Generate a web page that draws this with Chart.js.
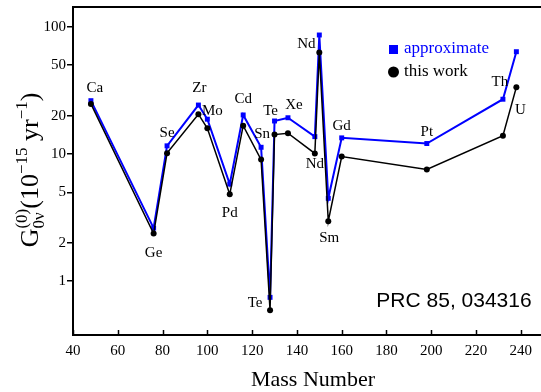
<!DOCTYPE html>
<html>
<head>
<meta charset="utf-8">
<script src="https://cdn.jsdelivr.net/npm/chart.js@4.4.1/dist/chart.umd.min.js"></script>
<style>
  html, body { margin: 0; padding: 0; background: #fff; }
  #wrap { width: 541px; height: 392px; position: relative; }
</style>
</head>
<body>
<div id="wrap"><canvas id="chart"></canvas></div>
<script>
// 0νββ phase-space factors G_0ν^(0) vs mass number
const massNumbers = [48, 76, 82, 96, 100, 110, 116, 124, 128, 130, 136, 148, 150, 154, 160, 198, 232, 238];
const nuclei = ['Ca', 'Ge', 'Se', 'Zr', 'Mo', 'Pd', 'Cd', 'Sn', 'Te', 'Te', 'Xe', 'Nd', 'Nd', 'Sm', 'Gd', 'Pt', 'Th', 'U'];
const thisWork = [24.81, 2.363, 10.16, 20.58, 15.92, 4.815, 16.70, 9.04, 0.5878, 14.22, 14.58, 10.10, 63.03, 2.955, 9.559, 7.556, 13.93, 33.61];
const approximate = [26.3, 2.61, 11.6, 24.3, 18.8, 5.8, 20.3, 11.3, 0.744, 18.2, 19.3, 13.7, 86.5, 4.48, 13.4, 12.1, 27.0, 63.9];
const xTicks = [40, 60, 80, 100, 120, 140, 160, 180, 200, 220, 240];
const yTicks = [1, 2, 5, 10, 20, 50, 100];

const SERIF = '"Liberation Serif", "Times New Roman", serif';
const BLUE = '#0000ff';

// element label offsets (px) from the "this work" point
const labelDx = [4, 0, 0, 1, 5, 0, 0, 1, -15, -4, 6, 0, -13, 1, 0, 0, -3, 4];
const labelDy = [-16, 19, -20, -26, -17, 19, -27, -26, -7, -24, -28, 11, -8, 17, -30, -37, -54, 23];

const annotations = {
  id: 'annotations',
  afterDraw(chart) {
    const ctx = chart.ctx;
    const area = chart.chartArea;
    const xs = chart.scales.x, ys = chart.scales.y;
    ctx.save();

    // top frame line
    ctx.strokeStyle = '#000';
    ctx.lineWidth = 2;
    ctx.beginPath();
    ctx.moveTo(area.left - 1, area.top);
    ctx.lineTo(area.right, area.top);
    ctx.stroke();

    // inward x ticks
    ctx.lineWidth = 1.5;
    xTicks.forEach(v => {
      const px = Math.round(xs.getPixelForValue(v)) + 0.5;
      ctx.beginPath();
      ctx.moveTo(px, area.bottom);
      ctx.lineTo(px, area.bottom - 5);
      ctx.stroke();
    });

    // element labels
    ctx.fillStyle = '#000';
    ctx.font = '15px ' + SERIF;
    ctx.textAlign = 'center';
    ctx.textBaseline = 'middle';
    nuclei.forEach((name, i) => {
      const px = xs.getPixelForValue(massNumbers[i]);
      const py = ys.getPixelForValue(thisWork[i]);
      ctx.fillText(name, px + labelDx[i], py + labelDy[i]);
    });

    // legend
    ctx.fillStyle = BLUE;
    ctx.fillRect(389, 45, 9, 9);
    ctx.fillStyle = '#000';
    ctx.beginPath();
    ctx.arc(393.5, 72, 5.5, 0, Math.PI * 2);
    ctx.fill();
    ctx.font = '17px ' + SERIF;
    ctx.textAlign = 'left';
    ctx.fillStyle = BLUE;
    ctx.fillText('approximate', 404, 49);
    ctx.fillStyle = '#000';
    ctx.fillText('this work', 404, 72);

    // reference tag
    ctx.font = '21px "Liberation Sans", Arial, sans-serif';
    ctx.textAlign = 'center';
    ctx.fillText('PRC 85, 034316', 454, 301);

    // x axis title
    ctx.font = '22px ' + SERIF;
    ctx.fillText('Mass Number', 313, 380);

    // y axis title with sub/superscripts, rotated
    const segs = [
      { text: 'G', size: 26, dy: 0 },
      { text: '(0)', size: 17, dy: -11, keep: true },
      { text: '0ν', size: 17, dy: 6 },
      { text: '(10', size: 26, dy: 0 },
      { text: '−15', size: 17, dy: -11 },
      { text: ' yr', size: 26, dy: 0 },
      { text: '−1', size: 17, dy: -11 },
      { text: ')', size: 26, dy: 0 }
    ];
    let total = 0, held = 0;
    segs.forEach(s => {
      ctx.font = s.size + 'px ' + SERIF;
      s.w = ctx.measureText(s.text).width;
      if (s.keep) { held = s.w; return; }
      total += Math.max(held, s.w);
      held = 0;
    });
    ctx.translate(38, 170);
    ctx.rotate(-Math.PI / 2);
    ctx.textAlign = 'left';
    ctx.textBaseline = 'alphabetic';
    let x = -total / 2;
    held = 0;
    segs.forEach(s => {
      ctx.font = s.size + 'px ' + SERIF;
      ctx.fillText(s.text, x, s.dy);
      if (s.keep) { held = s.w; return; }
      x += Math.max(held, s.w);
      held = 0;
    });
    ctx.restore();
  }
};

new Chart(document.getElementById('chart'), {
  type: 'line',
  data: {
    datasets: [
      {
        label: 'this work',
        data: massNumbers.map((m, i) => ({ x: m, y: thisWork[i] })),
        borderColor: '#000',
        backgroundColor: '#000',
        borderWidth: 1.5,
        pointStyle: 'circle',
        pointRadius: 3,
        pointBorderWidth: 0,
        tension: 0
      },
      {
        label: 'approximate',
        data: massNumbers.map((m, i) => ({ x: m, y: approximate[i] })),
        borderColor: BLUE,
        backgroundColor: BLUE,
        borderWidth: 2,
        pointStyle: 'rect',
        pointRadius: 3.5,
        pointBorderWidth: 0,
        tension: 0
      }
    ]
  },
  options: {
    responsive: true,
    maintainAspectRatio: false,
    animation: false,
    layout: { autoPadding: false, padding: { top: 7, right: 0, left: 0, bottom: 0 } },
    plugins: {
      legend: { display: false },
      tooltip: { enabled: false }
    },
    scales: {
      x: {
        type: 'linear',
        min: 40,
        max: 249,
        afterFit: s => { s.height = 57; s.paddingLeft = 0; s.paddingRight = 0; },
        afterBuildTicks: s => { s.ticks = xTicks.map(v => ({ value: v })); },
        border: { display: true, color: '#000', width: 2 },
        grid: { drawOnChartArea: false, drawTicks: false },
        ticks: {
          color: '#000',
          padding: 7,
          maxRotation: 0,
          autoSkip: false,
          font: { family: SERIF, size: 15 }
        }
      },
      y: {
        type: 'logarithmic',
        min: 0.376,
        max: 143.7,
        afterFit: s => { s.width = 73; s.paddingTop = 0; s.paddingBottom = 0; },
        afterBuildTicks: s => { s.ticks = yTicks.map(v => ({ value: v })); },
        border: { display: true, color: '#000', width: 2 },
        grid: { drawOnChartArea: false, drawTicks: true, tickLength: 6, color: '#000', lineWidth: 1.5 },
        ticks: {
          color: '#000',
          padding: 1,
          autoSkip: false,
          callback: v => String(v),
          font: { family: SERIF, size: 15 }
        }
      }
    }
  },
  plugins: [annotations]
});
</script>
</body>
</html>
